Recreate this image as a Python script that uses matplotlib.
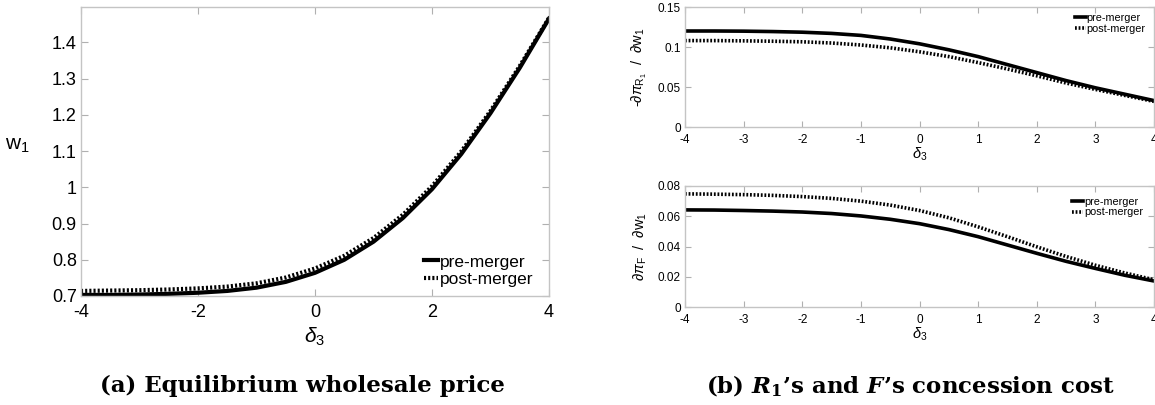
import matplotlib
matplotlib.use("Agg")
import matplotlib.pyplot as plt
import numpy as np

plt.rcParams['font.family'] = ['Liberation Sans', 'DejaVu Sans']
plt.rcParams['mathtext.fontset'] = 'custom'
plt.rcParams['mathtext.rm'] = 'Liberation Sans'
plt.rcParams['mathtext.it'] = 'Liberation Sans:italic'
plt.rcParams['mathtext.bf'] = 'DejaVu Serif:bold'
plt.rcParams['mathtext.bfit'] = 'DejaVu Serif:italic:bold'

delta3 = [-4, -3.5, -3, -2.5, -2, -1.5, -1, -0.5, 0, 0.5, 1, 1.5, 2, 2.5, 3, 3.5, 4]

w1_pre = [0.703, 0.703, 0.704, 0.706, 0.709, 0.714, 0.723, 0.739, 0.764, 0.800,
          0.850, 0.915, 0.995, 1.092, 1.205, 1.330, 1.466]
w1_post = [0.714, 0.715, 0.716, 0.718, 0.721, 0.726, 0.735, 0.751, 0.776, 0.811,
           0.860, 0.924, 1.003, 1.099, 1.211, 1.335, 1.468]

r1_pre = [0.1200, 0.1200, 0.1198, 0.1193, 0.1185, 0.1170, 0.1145, 0.1100, 0.1040,
          0.0965, 0.0880, 0.0780, 0.0680, 0.0580, 0.0490, 0.0410, 0.0330]
r1_post = [0.1080, 0.1080, 0.1077, 0.1072, 0.1065, 0.1050, 0.1025, 0.0990, 0.0940,
           0.0880, 0.0805, 0.0725, 0.0640, 0.0550, 0.0470, 0.0395, 0.0320]

f_pre = [0.0642, 0.0641, 0.0638, 0.0634, 0.0628, 0.0618, 0.0602, 0.0580, 0.0551,
         0.0512, 0.0465, 0.0410, 0.0355, 0.0302, 0.0255, 0.0210, 0.0172]
f_post = [0.0748, 0.0746, 0.0743, 0.0738, 0.0730, 0.0718, 0.0700, 0.0674, 0.0638,
          0.0590, 0.0530, 0.0465, 0.0398, 0.0334, 0.0276, 0.0225, 0.0180]

left_xticks = [-4, -2, 0, 2, 4]
left_yticks = [0.7, 0.8, 0.9, 1.0, 1.1, 1.2, 1.3, 1.4]
left_yticklabels = ['0.7', '0.8', '0.9', '1', '1.1', '1.2', '1.3', '1.4']
right_xticks = [-4, -3, -2, -1, 0, 1, 2, 3, 4]
r1_yticks = [0, 0.05, 0.1, 0.15]
r1_yticklabels = ['0', '0.05', '0.1', '0.15']
f_yticks = [0, 0.02, 0.04, 0.06, 0.08]
f_yticklabels = ['0', '0.02', '0.04', '0.06', '0.08']

W, H = 1155, 405
fig = plt.figure(figsize=(W / 100, H / 100), dpi=100)

def box(l, t, r, b):
    return [l / W, 1 - b / H, (r - l) / W, (b - t) / H]

spine_c = '#c4c4c4'
dots = (0, (0.5, 0.5))

def style(ax, fs, ln):
    for s in ax.spines.values():
        s.set_color(spine_c)
        s.set_linewidth(1.0)
    ax.tick_params(direction='in', top=True, right=True, color='#b0b0b0',
                   length=ln, width=0.8, labelsize=fs, labelcolor='black', pad=3)

# Left panel
axL = fig.add_axes(box(81, 7, 549, 296))
axL.plot(delta3, w1_pre, color='black', lw=3.0, label='pre-merger')
axL.plot(delta3, w1_post, color='black', lw=3.0, ls=dots, label='post-merger')
axL.set_xlim(-4, 4)
axL.set_ylim(0.7, 1.498)
axL.set_xticks(left_xticks)
axL.set_xticklabels([str(v) for v in left_xticks])
axL.set_yticks(left_yticks)
axL.set_yticklabels(left_yticklabels)
style(axL, 13, 5)
axL.tick_params(axis='x', pad=6)
axL.set_xlabel(r'$\delta_3$', fontsize=15, labelpad=3)
axL.set_ylabel(r'$\mathrm{w_1}$', fontsize=15, rotation=0, labelpad=16, va='center')
axL.yaxis.set_label_coords(-0.135, 0.52)
axL.legend(loc='lower right', frameon=False, fontsize=12.5, handlelength=0.8,
           handletextpad=0.1, labelspacing=0.15, borderaxespad=0.1,
           bbox_to_anchor=(0.985, 0.0))

# Right top panel
axR1 = fig.add_axes(box(685, 7, 1154, 127))
axR1.plot(delta3, r1_pre, color='black', lw=2.6, label='pre-merger')
axR1.plot(delta3, r1_post, color='black', lw=2.6, ls=dots, label='post-merger')
axR1.set_xlim(-4, 4)
axR1.set_ylim(0, 0.15)
axR1.set_xticks(right_xticks)
axR1.set_xticklabels([str(v) for v in right_xticks])
axR1.set_yticks(r1_yticks)
axR1.set_yticklabels(r1_yticklabels)
style(axR1, 8.5, 4)
axR1.tick_params(axis='x', pad=5)
axR1.set_xlabel(r'$\delta_3$', fontsize=10.5, labelpad=0)
axR1.set_ylabel(r'-$\partial\pi_{\mathrm{R_1}}$  /  $\partial \mathrm{w}_1$', fontsize=10.5, labelpad=6)
axR1.legend(loc='upper right', frameon=False, fontsize=7.8, handlelength=1.0,
            handletextpad=0.1, labelspacing=0.05, borderaxespad=0.15,
            bbox_to_anchor=(0.995, 1.0))

# Right bottom panel
axR2 = fig.add_axes(box(685, 186, 1154, 307))
axR2.plot(delta3, f_pre, color='black', lw=2.6, label='pre-merger')
axR2.plot(delta3, f_post, color='black', lw=2.6, ls=dots, label='post-merger')
axR2.set_xlim(-4, 4)
axR2.set_ylim(0, 0.08)
axR2.set_xticks(right_xticks)
axR2.set_xticklabels([str(v) for v in right_xticks])
axR2.set_yticks(f_yticks)
axR2.set_yticklabels(f_yticklabels)
style(axR2, 8.5, 4)
axR2.tick_params(axis='x', pad=5)
axR2.set_xlabel(r'$\delta_3$', fontsize=10.5, labelpad=0)
axR2.set_ylabel(r'$\partial\pi_{\mathrm{F}}$  /  $\partial \mathrm{w}_1$', fontsize=10.5, labelpad=6)
axR2.legend(loc='upper right', frameon=False, fontsize=7.8, handlelength=1.0,
            handletextpad=0.1, labelspacing=0.05, borderaxespad=0.6,
            bbox_to_anchor=(1.0, 1.0))

# Captions
cap_kw = dict(fontsize=16.5, fontweight='bold', family='DejaVu Serif', ha='center', va='center')
fig.text(302 / W, 1 - 386 / H, '(a) Equilibrium wholesale price', **cap_kw)
fig.text(910 / W, 1 - 386 / H,
         r"(b) $\mathbfit{R}_{\mathbf{1}}$’s and $\mathbfit{F}$’s concession cost", **cap_kw)

fig.savefig('out.png', dpi=100)
